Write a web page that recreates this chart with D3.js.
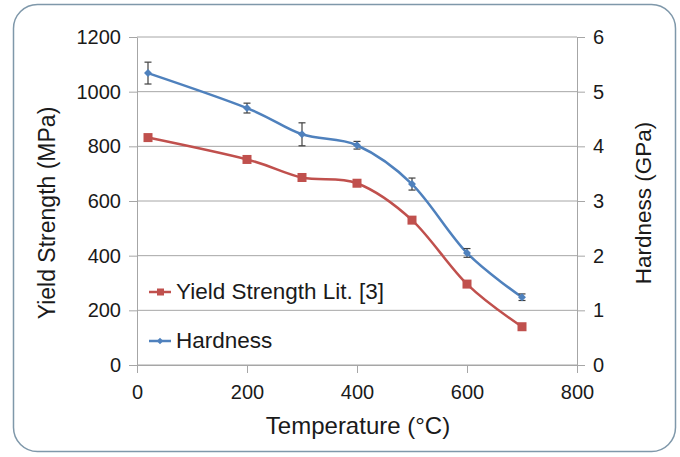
<!DOCTYPE html>
<html>
<head>
<meta charset="utf-8">
<script src="https://cdn.jsdelivr.net/npm/d3@7"></script>
<style>
  body { margin: 0; background: #fff; }
  text { font-family: "Liberation Sans", Arial, sans-serif; fill: #1a1a1a; }
</style>
</head>
<body>
<script>
// Data
const temperatures = [20, 200, 300, 400, 500, 600, 700];
const yieldStrength = [832, 752, 686, 665, 530, 296, 140];
const hardness = [5.34, 4.70, 4.22, 4.02, 3.31, 2.05, 1.24];
const hardnessErr = [0.20, 0.09, 0.21, 0.07, 0.11, 0.08, 0.06];
const xTicks = [0, 200, 400, 600, 800];
const yLeftTicks = [0, 200, 400, 600, 800, 1000, 1200];
const yRightTicks = [0, 1, 2, 3, 4, 5, 6];

const width = 680, height = 457;
const red = '#c0504d', blue = '#4f81bd', grid = '#a6a6a6';

const svg = d3.select('body').append('svg')
    .attr('width', width)
    .attr('height', height);

// Rounded frame
svg.append('rect')
    .attr('x', 13.5).attr('y', 4.5)
    .attr('width', 662).attr('height', 447)
    .attr('rx', 24).attr('ry', 24)
    .attr('fill', '#fff')
    .attr('stroke', '#7f98aa')
    .attr('stroke-width', 1.5);

const x = d3.scaleLinear().domain([0, 800]).range([137, 577]);
const yL = d3.scaleLinear().domain([0, 1200]).range([365, 37]);
const yR = d3.scaleLinear().domain([0, 6]).range([365, 37]);

// Horizontal gridlines
svg.append('g')
    .selectAll('line')
    .data(yLeftTicks)
    .join('line')
    .attr('x1', x(0)).attr('x2', x(800))
    .attr('y1', d => yL(d)).attr('y2', d => yL(d))
    .attr('stroke', grid).attr('stroke-width', 1);

// Axes
const styleAxis = g => {
    g.selectAll('.domain').attr('stroke', grid);
    g.selectAll('.tick line').attr('stroke', grid);
    g.selectAll('.tick text')
        .style('font-family', '"Liberation Sans", Arial, sans-serif')
        .style('font-size', '20px')
        .attr('fill', '#1a1a1a');
};

svg.append('g')
    .attr('transform', `translate(${x(0)},0)`)
    .call(d3.axisLeft(yL).tickValues(yLeftTicks).tickFormat(d3.format('d'))
        .tickSize(8).tickSizeOuter(0).tickPadding(8))
    .call(styleAxis);

svg.append('g')
    .attr('transform', `translate(${x(800)},0)`)
    .call(d3.axisRight(yR).tickValues(yRightTicks).tickFormat(d3.format('d'))
        .tickSize(8).tickSizeOuter(0).tickPadding(8))
    .call(styleAxis);

svg.append('g')
    .attr('transform', `translate(0,${yL(0)})`)
    .call(d3.axisBottom(x).tickValues(xTicks).tickFormat(d3.format('d'))
        .tickSize(8).tickSizeOuter(0).tickPadding(12))
    .call(styleAxis);

// Axis titles
svg.append('text')
    .attr('transform', `translate(55,${(yL(0) + yL(1200)) / 2 + 12}) rotate(-90)`)
    .attr('text-anchor', 'middle')
    .style('font-size', '23px')
    .text('Yield Strength (MPa)');

svg.append('text')
    .attr('transform', `translate(651,${(yR(0) + yR(6)) / 2 + 2}) rotate(-90)`)
    .attr('text-anchor', 'middle')
    .style('font-size', '22.5px')
    .text('Hardness (GPa)');

svg.append('text')
    .attr('x', 358).attr('y', 434)
    .attr('text-anchor', 'middle')
    .style('font-size', '24px')
    .text('Temperature (°C)');

// Lines (Excel-style smoothing)
const curve = d3.curveCatmullRom.alpha(0);

svg.append('path')
    .datum(temperatures.map((t, i) => [t, yieldStrength[i]]))
    .attr('fill', 'none')
    .attr('stroke', red).attr('stroke-width', 2.5)
    .attr('d', d3.line().x(d => x(d[0])).y(d => yL(d[1])).curve(curve));

svg.append('path')
    .datum(temperatures.map((t, i) => [t, hardness[i]]))
    .attr('fill', 'none')
    .attr('stroke', blue).attr('stroke-width', 2.5)
    .attr('d', d3.line().x(d => x(d[0])).y(d => yR(d[1])).curve(curve));

// Error bars
const err = svg.append('g').attr('stroke', '#404040').attr('stroke-width', 1.2);
temperatures.forEach((t, i) => {
    const cx = x(t), top = yR(hardness[i] + hardnessErr[i]), bot = yR(hardness[i] - hardnessErr[i]);
    err.append('line').attr('x1', cx).attr('x2', cx).attr('y1', top).attr('y2', bot);
    err.append('line').attr('x1', cx - 3.5).attr('x2', cx + 3.5).attr('y1', top).attr('y2', top);
    err.append('line').attr('x1', cx - 3.5).attr('x2', cx + 3.5).attr('y1', bot).attr('y2', bot);
});

// Markers
svg.append('g')
    .selectAll('rect')
    .data(temperatures.map((t, i) => [t, yieldStrength[i]]))
    .join('rect')
    .attr('x', d => x(d[0]) - 4.5).attr('y', d => yL(d[1]) - 4.5)
    .attr('width', 9).attr('height', 9)
    .attr('fill', red);

const diamond = d3.symbol().type(d3.symbolDiamond2).size(40);
svg.append('g')
    .selectAll('path')
    .data(temperatures.map((t, i) => [t, hardness[i]]))
    .join('path')
    .attr('transform', d => `translate(${x(d[0])},${yR(d[1])})`)
    .attr('d', diamond)
    .attr('fill', blue);

// Legend
const legend = svg.append('g');
const legendItems = [
    { label: 'Yield Strength Lit. [3]', color: red, y: 292, marker: 'square' },
    { label: 'Hardness', color: blue, y: 341, marker: 'diamond' }
];
legendItems.forEach(item => {
    legend.append('line')
        .attr('x1', 149).attr('x2', 171)
        .attr('y1', item.y).attr('y2', item.y)
        .attr('stroke', item.color).attr('stroke-width', 2.5);
    if (item.marker === 'square') {
        legend.append('rect')
            .attr('x', 157).attr('y', item.y - 3.5)
            .attr('width', 7).attr('height', 7)
            .attr('fill', item.color);
    } else {
        legend.append('path')
            .attr('transform', `translate(160,${item.y})`)
            .attr('d', d3.symbol().type(d3.symbolDiamond2).size(28))
            .attr('fill', item.color);
    }
    legend.append('text')
        .attr('x', 176).attr('y', item.y + 7)
        .style('font-size', '22.5px')
        .text(item.label);
});
</script>
</body>
</html>
